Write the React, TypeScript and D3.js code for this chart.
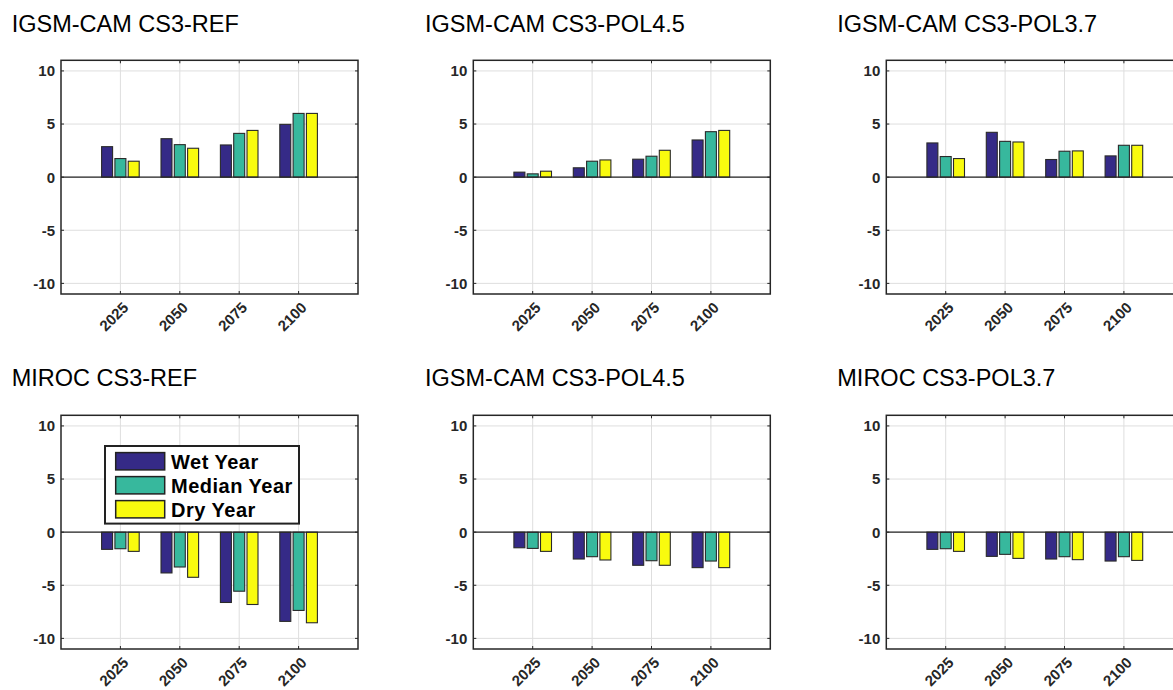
import * as d3 from 'd3';

const W = 1173;
const H = 690;

const years = ['2025', '2050', '2075', '2100'];
const seriesNames = ['Wet Year', 'Median Year', 'Dry Year'];
const seriesColors = ['#352a87', '#37b89d', '#f9fb0e'];
const yTicks = [-10, -5, 0, 5, 10];

// rows: wet, median, dry — one value per year
const camRef = [
  [2.87, 3.62, 3.03, 4.97],
  [1.75, 3.06, 4.12, 6.0],
  [1.5, 2.72, 4.4, 6.0],
];
const camPol45 = [
  [0.47, 0.88, 1.69, 3.5],
  [0.31, 1.5, 1.97, 4.28],
  [0.56, 1.62, 2.53, 4.4],
];
const camPol37 = [
  [3.22, 4.22, 1.66, 2.0],
  [1.94, 3.37, 2.44, 3.0],
  [1.75, 3.31, 2.47, 3.0],
];
const mirocRef = [
  [-1.62, -3.84, -6.62, -8.4],
  [-1.56, -3.28, -5.56, -7.37],
  [-1.81, -4.25, -6.81, -8.53],
];
const mirocPol45 = [
  [-1.47, -2.53, -3.12, -3.34],
  [-1.53, -2.31, -2.69, -2.72],
  [-1.81, -2.62, -3.12, -3.34],
];
const mirocPol37 = [
  [-1.62, -2.28, -2.53, -2.72],
  [-1.56, -2.09, -2.31, -2.31],
  [-1.81, -2.47, -2.59, -2.66],
];

const panels = [
  { title: 'IGSM-CAM CS3-REF', values: camRef, col: 0, row: 0, legend: false },
  { title: 'IGSM-CAM CS3-POL4.5', values: camPol45, col: 1, row: 0, legend: false },
  { title: 'IGSM-CAM CS3-POL3.7', values: camPol37, col: 2, row: 0, legend: false },
  { title: 'MIROC CS3-REF', values: mirocRef, col: 0, row: 1, legend: true },
  { title: 'IGSM-CAM CS3-POL4.5', values: mirocPol45, col: 1, row: 1, legend: false },
  { title: 'MIROC CS3-POL3.7', values: mirocPol37, col: 2, row: 1, legend: false },
];

const colLefts = [61, 473.3, 886.3];
const rowTops = [60.3, 415.3];
const titleLefts = [11.7, 425, 837.3];
const titleBase = [31.5, 386];
const pw = 297;
const ph = 233.7;

const axisColor = '#262626';
const font = '"Liberation Sans", Arial, Helvetica, sans-serif';

function Panel({ p }: { p: (typeof panels)[number] }) {
  const left = colLefts[p.col];
  const top = rowTops[p.row];
  const x = d3.scaleLinear().domain([0, 5]).range([left, left + pw]);
  const y = d3.scaleLinear().domain([-11, 11]).range([top + ph, top]);
  const barW = 0.185;
  const offsets = [-0.224, 0, 0.224];
  const tickLen = 3;

  return (
    <g>
      <text x={titleLefts[p.col]} y={titleBase[p.row]} fontSize={23.5} fill="#000" fontFamily={font}>
        {p.title}
      </text>
      <rect x={left} y={top} width={pw} height={ph} fill="#fff" />
      {/* grid */}
      {years.map((_, i) => (
        <line key={'gx' + i} x1={x(i + 1)} x2={x(i + 1)} y1={top} y2={top + ph} stroke="#dedede" strokeWidth={1} />
      ))}
      {yTicks.map((t) => (
        <line key={'gy' + t} x1={left} x2={left + pw} y1={y(t)} y2={y(t)} stroke="#dedede" strokeWidth={1} />
      ))}
      {/* bars */}
      {p.values.map((vals, s) =>
        vals.map((v, i) => {
          const cx = i + 1 + offsets[s];
          const x0 = x(cx - barW / 2);
          const x1 = x(cx + barW / 2);
          return (
            <rect
              key={`b${s}-${i}`}
              x={x0}
              y={Math.min(y(v), y(0))}
              width={x1 - x0}
              height={Math.abs(y(v) - y(0))}
              fill={seriesColors[s]}
              stroke="#2a2a2a"
              strokeWidth={1.1}
            />
          );
        })
      )}
      {/* baseline */}
      <line x1={left} x2={left + pw} y1={y(0)} y2={y(0)} stroke={axisColor} strokeWidth={1.2} />
      {/* ticks inward */}
      {years.map((_, i) => (
        <g key={'tx' + i}>
          <line x1={x(i + 1)} x2={x(i + 1)} y1={top + ph} y2={top + ph - tickLen} stroke={axisColor} />
          <line x1={x(i + 1)} x2={x(i + 1)} y1={top} y2={top + tickLen} stroke={axisColor} />
        </g>
      ))}
      {yTicks.map((t) => (
        <g key={'ty' + t}>
          <line x1={left} x2={left + tickLen} y1={y(t)} y2={y(t)} stroke={axisColor} />
          <line x1={left + pw} x2={left + pw - tickLen} y1={y(t)} y2={y(t)} stroke={axisColor} />
        </g>
      ))}
      <rect x={left} y={top} width={pw} height={ph} fill="none" stroke={axisColor} strokeWidth={1.5} />
      {/* tick labels */}
      {yTicks.map((t) => (
        <text
          key={'yl' + t}
          x={left - 6}
          y={y(t)}
          dy="0.36em"
          textAnchor="end"
          fontSize={15}
          fontWeight="bold"
          fill={axisColor}
          fontFamily={font}
        >
          {t}
        </text>
      ))}
      {years.map((yr, i) => (
        <text
          key={'xl' + yr}
          transform={`translate(${x(i + 1) + 9},${top + ph + 14.5}) rotate(-45)`}
          textAnchor="end"
          fontSize={15}
          fontWeight="bold"
          fill={axisColor}
          fontFamily={font}
        >
          {yr}
        </text>
      ))}
      {p.legend && <Legend left={left + 44} top={top + 30.7} />}
    </g>
  );
}

function Legend({ left, top }: { left: number; top: number }) {
  return (
    <g>
      <rect x={left} y={top} width={194} height={77.6} fill="#fff" stroke="#222" strokeWidth={2} />
      {seriesNames.map((name, i) => (
        <g key={name}>
          <rect
            x={left + 10.7}
            y={top + 6.6 + i * 24}
            width={49}
            height={17.3}
            fill={seriesColors[i]}
            stroke="#222"
            strokeWidth={1.5}
          />
          <text
            x={left + 66}
            y={top + 22.7 + i * 24}
            fontSize={20}
            letterSpacing={0.5}
            fontWeight="bold"
            fill="#000"
            fontFamily={font}
          >
            {name}
          </text>
        </g>
      ))}
    </g>
  );
}

export default function App() {
  return (
    <svg
      width={W}
      height={H}
      viewBox={`0 0 ${W} ${H}`}
      style={{ position: 'absolute', left: 0, top: 0, background: '#fff' }}
    >
      <rect width={W} height={H} fill="#fff" />
      {panels.map((p, i) => (
        <Panel key={i} p={p} />
      ))}
    </svg>
  );
}
